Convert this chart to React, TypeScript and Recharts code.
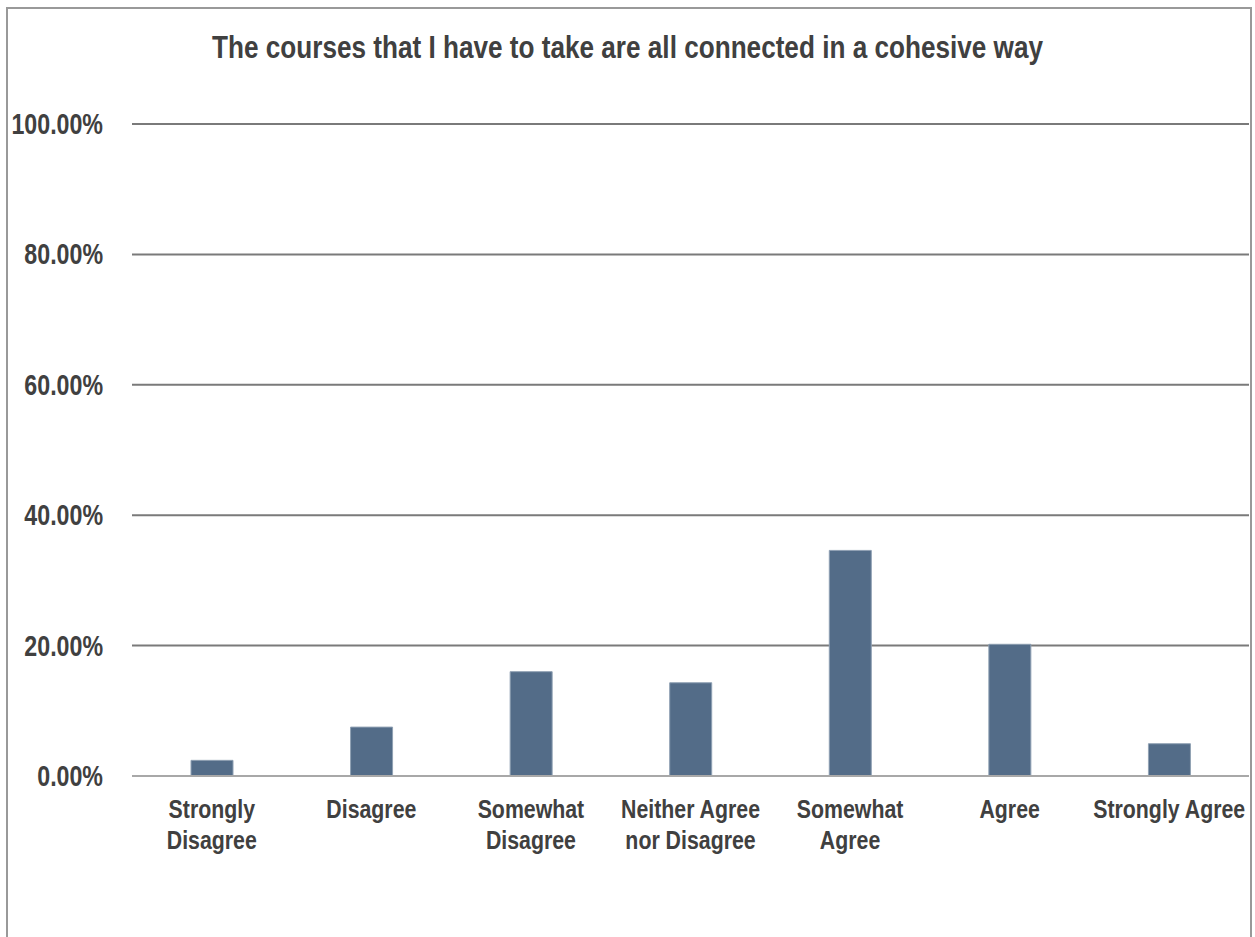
import { Bar, BarChart, CartesianGrid, XAxis, YAxis } from 'recharts'

const categories = [
  'Strongly\nDisagree',
  'Disagree',
  'Somewhat\nDisagree',
  'Neither Agree\nnor Disagree',
  'Somewhat\nAgree',
  'Agree',
  'Strongly Agree',
]
const percents = [2.4, 7.5, 16.0, 14.3, 34.6, 20.2, 4.95]
const yTicks = [0, 20, 40, 60, 80, 100]
const title = 'The courses that I have to take are all connected in a cohesive way'

const data = categories.map((name, i) => ({ name, value: percents[i] }))

// no narrow font installed, so squeeze Liberation Sans horizontally
const FONT = '"Liberation Sans", Arial, sans-serif'
const TEXT = '#404040'
const SQUEEZE = 0.82

function XTick({ x, y, payload }: any) {
  const lines = String(payload.value).split('\n')
  return (
    <g transform={`translate(${x},${y}) scale(${SQUEEZE},1)`}>
      <text x={0} y={0} textAnchor="middle" fill={TEXT} fontFamily={FONT} fontWeight="bold" fontSize={26}>
        {lines.map((l, i) => (
          <tspan key={i} x={0} dy={i === 0 ? 42 : 31}>{l}</tspan>
        ))}
      </text>
    </g>
  )
}

function YTick({ x, y, payload }: any) {
  return (
    <g transform={`translate(${x - 29},${y + 10}) scale(0.8,1)`}>
      <text x={0} y={0} textAnchor="end" fill={TEXT} fontFamily={FONT} fontWeight="bold" fontSize={29}>
        {`${Number(payload.value).toFixed(2)}%`}
      </text>
    </g>
  )
}

export default function App() {
  return (
    <div style={{ position: 'absolute', left: 0, top: 0, width: 1255, height: 937, background: '#fff', overflow: 'hidden' }}>
      <div style={{ position: 'absolute', left: 6, top: 7, width: 1242, height: 1000, border: '2px solid #999' }} />
      <svg width={1255} height={100} style={{ position: 'absolute', left: 0, top: 0 }}>
        <text
          x={627.5}
          y={58}
          textAnchor="middle"
          fill={TEXT}
          fontFamily={FONT}
          fontWeight="bold"
          fontSize={31}
          textLength={831}
          lengthAdjust="spacingAndGlyphs"
        >
          {title}
        </text>
      </svg>
      <BarChart
        width={1255}
        height={937}
        data={data}
        margin={{ top: 124, right: 6, bottom: 61, left: 0 }}
        style={{ position: 'absolute', left: 0, top: 0 }}
      >
        <CartesianGrid horizontal vertical={false} stroke="#7a7a7a" strokeWidth={2} />
        <XAxis
          dataKey="name"
          interval={0}
          tickLine={false}
          tickSize={0}
          tickMargin={0}
          height={100}
          axisLine={{ stroke: '#a8a8a8', strokeWidth: 2 }}
          tick={<XTick />}
        />
        <YAxis
          domain={[0, 100]}
          ticks={yTicks}
          width={132}
          axisLine={false}
          tickLine={false}
          tickSize={0}
          tickMargin={0}
          tick={<YTick />}
        />
        <Bar dataKey="value" fill="#536c88" stroke="#8fa0b3" strokeWidth={1} barSize={42} isAnimationActive={false} />
      </BarChart>
    </div>
  )
}
